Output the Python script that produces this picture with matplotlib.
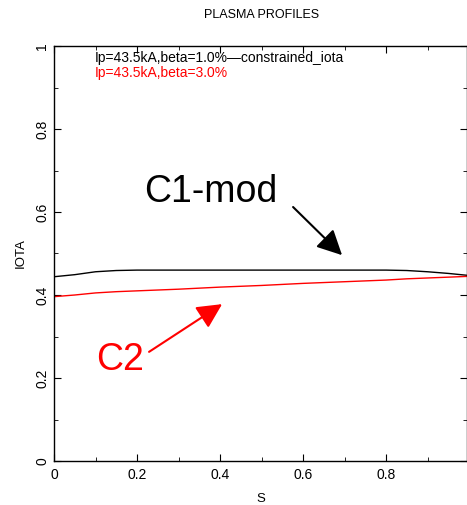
import matplotlib.pyplot as plt
from matplotlib.ticker import MultipleLocator

plt.rcParams["font.family"] = ["Liberation Sans", "DejaVu Sans"]

s = [0.0, 0.05, 0.1, 0.15, 0.2, 0.3, 0.4, 0.5, 0.6, 0.7, 0.8, 0.85, 0.9, 0.95, 1.0]
iota_c1 = [0.444, 0.449, 0.456, 0.459, 0.460, 0.460, 0.460, 0.460, 0.460, 0.460,
           0.460, 0.459, 0.456, 0.452, 0.447]
iota_c2 = [0.396, 0.400, 0.405, 0.408, 0.410, 0.414, 0.419, 0.423, 0.428, 0.432,
           0.436, 0.439, 0.441, 0.443, 0.445]

label_c1 = "Ip=43.5kA,beta=1.0%\u2014constrained_iota"
label_c2 = "Ip=43.5kA,beta=3.0%"


def fmt(v, pos):
    v = round(v, 3)
    if v == 0:
        return "0"
    if v == 1:
        return "1"
    return f"{v:.1f}"


fig = plt.figure(figsize=(4.67, 5.05), dpi=100)
ax = fig.add_axes([54 / 467, 44 / 505, 413 / 467, 415 / 505])

ax.plot(s, iota_c1, color="black", linewidth=1.0)
ax.plot(s, iota_c2, color="red", linewidth=1.0)

ax.set_xlim(0, 0.995)
ax.set_ylim(0, 1)
ax.xaxis.set_major_locator(MultipleLocator(0.2))
ax.xaxis.set_minor_locator(MultipleLocator(0.1))
ax.yaxis.set_major_locator(MultipleLocator(0.2))
ax.yaxis.set_minor_locator(MultipleLocator(0.1))
ax.xaxis.set_major_formatter(fmt)
ax.yaxis.set_major_formatter(fmt)
ax.tick_params(which="both", direction="in", top=True, right=True, labelsize=10)
ax.tick_params(which="major", length=5)
ax.tick_params(which="minor", length=3)
ax.tick_params(axis="x", pad=5)
for lab in ax.get_yticklabels():
    lab.set_rotation(90)
    lab.set_va("center")
for sp in ax.spines.values():
    sp.set_linewidth(1.0)

ax.set_xlabel("S", fontsize=9.5, labelpad=8)
ax.set_ylabel("IOTA", fontsize=9.5, labelpad=6)
fig.text(262 / 467, 1 - 15 / 505, "PLASMA PROFILES", ha="center", va="center", fontsize=9)

ax.text(0.099, 0.970, label_c1, fontsize=10, va="center", color="black")
ax.text(0.099, 0.936, label_c2, fontsize=10, va="center", color="red")

ax.annotate("", xy=(0.694, 0.496), xytext=(0.576, 0.612),
            arrowprops=dict(arrowstyle="-|>", color="black", lw=1.5,
                            mutation_scale=38, shrinkA=0, shrinkB=0))
ax.text(0.378, 0.648, "C1-mod", fontsize=27, ha="center", va="center", color="black")
ax.annotate("", xy=(0.405, 0.378), xytext=(0.229, 0.263),
            arrowprops=dict(arrowstyle="-|>", color="red", lw=1.5,
                            mutation_scale=38, shrinkA=0, shrinkB=0))
ax.text(0.159, 0.243, "C2", fontsize=27, ha="center", va="center", color="red")

fig.savefig("out.png", dpi=100)
